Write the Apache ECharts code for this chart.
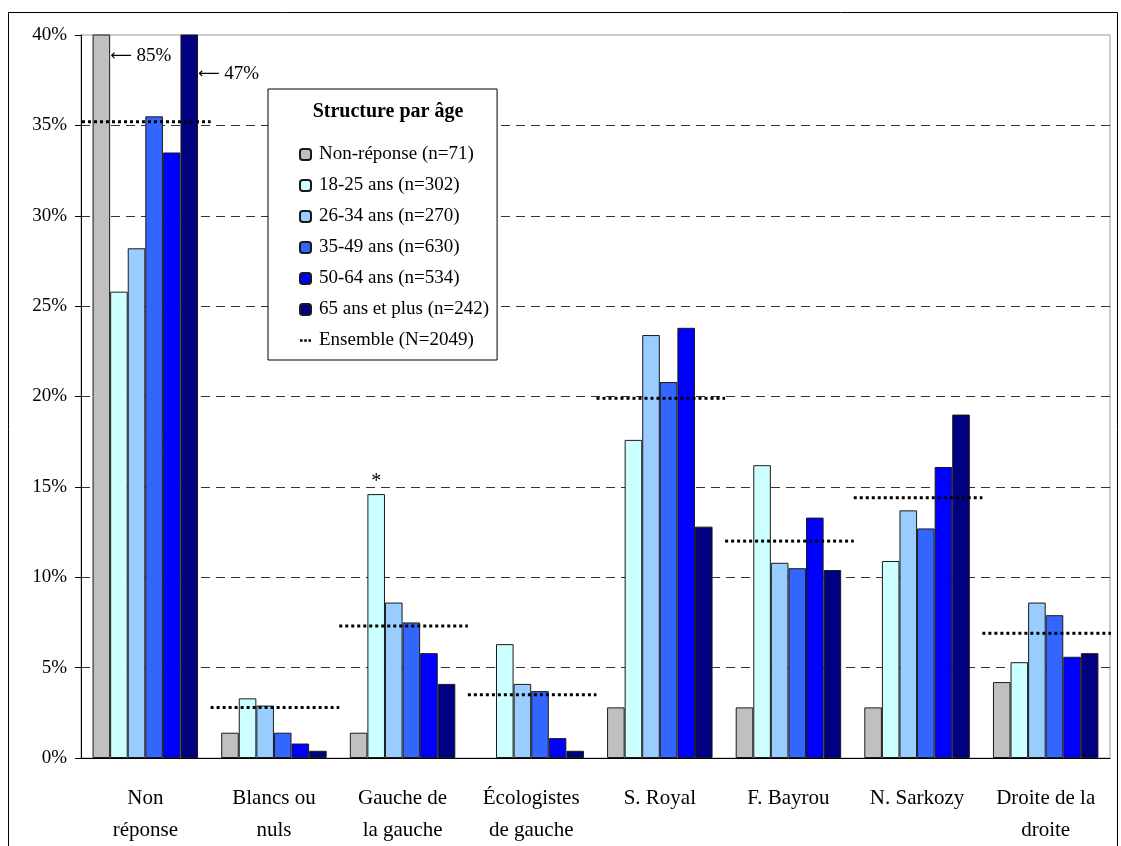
<!DOCTYPE html>
<html>
<head>
<meta charset="utf-8">
<script src="https://cdn.jsdelivr.net/npm/echarts@6.0.0/dist/echarts.min.js"></script>
<style>
  html, body { margin: 0; padding: 0; background: #fff; }
  #chart { width: 1121px; height: 846px; }
</style>
</head>
<body>
<div id="chart"></div>
<script>
// categories (x axis)
const categories = ['Non\nréponse', 'Blancs ou\nnuls', 'Gauche de\nla gauche', 'Écologistes\nde gauche',
  'S. Royal', 'F. Bayrou', 'N. Sarkozy', 'Droite de la\ndroite']

// values in %
const nonReponse = [85, 1.4, 1.4, null, 2.8, 2.8, 2.8, 4.2]
const age1825 = [25.8, 3.3, 14.6, 6.3, 17.6, 16.2, 10.9, 5.3]
const age2634 = [28.2, 2.9, 8.6, 4.1, 23.4, 10.8, 13.7, 8.6]
const age3549 = [35.5, 1.4, 7.5, 3.7, 20.8, 10.5, 12.7, 7.9]
const age5064 = [33.5, 0.8, 5.8, 1.1, 23.8, 13.3, 16.1, 5.6]
const age65 = [47, 0.4, 4.1, 0.4, 12.8, 10.4, 19.0, 5.8]
const ensemble = [35.2, 2.8, 7.3, 3.5, 19.9, 12.0, 14.4, 6.9]

const yTicks = [0, 5, 10, 15, 20, 25, 30, 35, 40]

const seriesNames = ['Non-réponse (n=71)', '18-25 ans (n=302)', '26-34 ans (n=270)',
  '35-49 ans (n=630)', '50-64 ans (n=534)', '65 ans et plus (n=242)']
const ensembleName = 'Ensemble (N=2049)'

const FONT = '"Liberation Serif", "DejaVu Serif", serif'
const colors = ['#C0C0C0', '#CCFFFF', '#99CCFF', '#3366FF', '#0000FF', '#000080']

// labels for bars cut by the axis max
const overflowLabel = (dy) => ({
  show: true,
  position: ['100%', dy],
  align: 'left',
  verticalAlign: 'middle',
  distance: 0,
  color: '#000',
  formatter: (p) => '{a|\u27F5}{b| ' + p.value + '%}',
  rich: {
    a: { fontFamily: '"DejaVu Sans"', fontSize: 15, color: '#000' },
    b: { fontFamily: FONT, fontSize: 19, color: '#000' },
  },
})

const withOverflow = (arr, dy) => arr.map((v) => (v > yTicks[yTicks.length - 1]
  ? { value: v, label: overflowLabel(dy) }
  : v))

const barData = [
  withOverflow(nonReponse, 22),
  age1825.map((v, i) => (i === 2
    ? { value: v, label: { show: true, position: 'top', distance: 2, formatter: '*', fontFamily: FONT, fontSize: 20, color: '#000' } }
    : v)),
  age2634,
  age3549,
  age5064,
  withOverflow(age65, 40),
]

const bars = barData.map((d, i) => ({
  name: seriesNames[i],
  type: 'bar',
  data: d,
  barGap: '0%',
  barCategoryGap: '18%',
  clip: true,
  itemStyle: { color: colors[i], borderColor: '#1a1a1a', borderWidth: 1 },
  emphasis: { disabled: true },
  z: 3,
}))

const chart = echarts.init(document.getElementById('chart'))

chart.setOption({
  animation: false,
  backgroundColor: '#fff',
  textStyle: { fontFamily: FONT },
  title: {
    text: 'Structure par âge',
    left: 383,
    top: 97,
    textAlign: 'center',
    textStyle: { fontFamily: FONT, fontSize: 20, fontWeight: 'bold', color: '#000' },
  },
  legend: {
    orient: 'vertical',
    left: 268,
    top: 89,
    padding: [56, 8, 10, 31],
    itemGap: 12,
    itemWidth: 11,
    itemHeight: 11,
    borderColor: '#000',
    borderWidth: 1,
    backgroundColor: '#fff',
    textStyle: { fontFamily: FONT, fontSize: 19, color: '#000', padding: [0, 0, 0, 3] },
    data: seriesNames.concat([{
      name: ensembleName,
      icon: 'path://M0,0h3v3h-3z M5,0h3v3h-3z M10,0h3v3h-3z',
    }]),
  },
  grid: {
    left: 81,
    right: 11,
    top: 35,
    bottom: 88,
    show: true,
    borderColor: '#999',
    borderWidth: 1,
  },
  xAxis: {
    type: 'category',
    data: categories,
    axisLine: { lineStyle: { color: '#000' } },
    axisTick: { length: 8, lineStyle: { color: '#000' } },
    axisLabel: {
      margin: 24,
      interval: 0,
      fontFamily: FONT,
      fontSize: 21,
      lineHeight: 32,
      color: '#000',
    },
  },
  yAxis: {
    type: 'value',
    min: yTicks[0],
    max: yTicks[yTicks.length - 1],
    interval: 5,
    axisLine: { show: true, lineStyle: { color: '#000' } },
    axisTick: { show: true, length: 6, lineStyle: { color: '#000' } },
    axisLabel: {
      margin: 14,
      fontFamily: FONT,
      fontSize: 19,
      color: '#000',
      formatter: '{value}%',
    },
    splitLine: {
      show: true,
      showMaxLine: false,
      lineStyle: { color: '#333', type: [9, 6], width: 1 },
    },
  },
  series: bars.concat([{
    name: ensembleName,
    type: 'custom',
    data: ensemble.map((v, i) => [i, v]),
    itemStyle: { color: '#000' },
    z: 5,
    renderItem: (params, api) => {
      const pt = api.coord([api.value(0), api.value(1)])
      const bw = api.size([1, 0])[0]
      return {
        type: 'line',
        shape: { x1: pt[0] - bw / 2 + 1, y1: pt[1], x2: pt[0] + bw / 2 + 1, y2: pt[1] },
        style: { stroke: '#000', lineWidth: 3, lineDash: [3, 3] },
      }
    },
  }]),
  graphic: [{
    type: 'rect',
    shape: { x: 8.5, y: 12.5, width: 1109, height: 900 },
    style: { fill: null, stroke: '#000', lineWidth: 1 },
    silent: true,
  }],
})
</script>
</body>
</html>
